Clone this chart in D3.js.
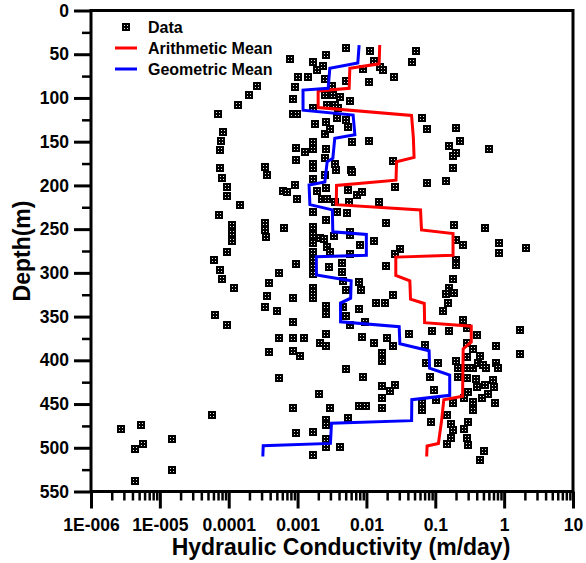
<!DOCTYPE html>
<html><head><meta charset="utf-8">
<script src="https://cdn.jsdelivr.net/npm/d3@7"></script>
<style>body{margin:0;background:#fff}svg{display:block}</style>
</head><body><svg id="c" width="586" height="563"></svg>
<script>
// ---- data: depth (m) and hydraulic conductivity (m/day) of each sample ----
const depth = [
 478,474,501,496,490,525,538,463,118,139,149,160,180,192,202,212,108,97,86,179,188,222,234,245,254,264,276,285,297,307,317,348,360,243,251,259,249,300,312,327,339,344,375,390,420,
 56,76,88,101,118,118,157,171,199,206,208,215,290,329,356,375,389,454,483,395,375,162,76,
 59,68,112,130,150,158,176,180,193,206,230,247,257,266,276,285,293,301,317,322,329,482,508,439,260,380,
 64,51,78,97,108,128,141,158,169,188,203,215,215,239,261,270,276,293,338,347,370,384,455,468,474,490,499,86,90,97,108,112,99,123,135,176,182,258,230,219,
 43,81,104,125,133,150,182,185,205,219,231,253,257,278,268,289,299,309,320,311,320,339,349,341,356,373,360,410,466,499,211,207,419,452,452,67,82,149,
 46,58,65,68,76,172,202,219,243,264,273,278,292,325,334,334,380,375,384,392,401,429,435,428,443,455,370,46,59,123,136,197,366,383,403,419,434,449,457,471,
 195,134,149,155,166,163,158,180,245,249,262,268,266,277,271,285,291,307,317,323,324,334,344,354,363,367,371,365,380,387,384,393,395,396,403,401,409,409,409,403,405,409,403,409,419,420,421,430,428,423,430,436,439,443,443,449,448,457,449,445,463,473,480,470,478,489,489,496,497,504,514
];
const conductivity = [
 2.7e-6,5.4e-6,4.4e-6,5.7e-6,1.5e-5,1.5e-5,4.4e-6,5.8e-5,7.0e-5,8.2e-5,7.7e-5,7.5e-5,7.5e-5,7.9e-5,9.6e-5,9.6e-5,1.35e-4,2.0e-4,2.55e-4,3.35e-4,3.6e-4,1.45e-4,7.3e-5,1.12e-4,1.12e-4,1.12e-4,9.5e-5,6.1e-5,7.5e-5,7.9e-5,1.2e-4,6.3e-5,9.5e-5,3.35e-4,3.35e-4,3.45e-4,6.4e-4,5.4e-4,3.9e-4,3.6e-4,3.35e-4,5.0e-4,5.3e-4,3.9e-4,5.4e-4,
 7.8e-4,1.0e-3,9.1e-4,8.5e-4,8.5e-4,9.7e-4,9.4e-4,9.4e-4,9.3e-4,6.2e-4,7.1e-4,9.7e-4,9.4e-4,8.5e-4,8.5e-4,8.5e-4,8.5e-4,8.5e-4,9.4e-4,1.1e-3,1.23e-3,1.3e-3,1.4e-3,
 1.7e-3,1.9e-3,1.7e-3,1.8e-3,1.7e-3,1.7e-3,1.65e-3,1.7e-3,1.7e-3,1.9e-3,1.7e-3,1.7e-3,1.7e-3,1.7e-3,1.7e-3,1.65e-3,1.65e-3,1.65e-3,1.7e-3,1.7e-3,1.7e-3,1.7e-3,1.7e-3,2.05e-3,2.1e-3,2.15e-3,
 2.35e-3,2.6e-3,2.5e-3,2.5e-3,2.65e-3,2.6e-3,2.5e-3,2.6e-3,2.5e-3,2.5e-3,2.6e-3,2.25e-3,2.65e-3,2.6e-3,2.45e-3,2.7e-3,2.95e-3,2.9e-3,2.6e-3,2.6e-3,2.6e-3,2.6e-3,2.95e-3,2.6e-3,2.6e-3,2.6e-3,2.6e-3,3.2e-3,3.2e-3,3.3e-3,3.5e-3,3.9e-3,4.1e-3,3.7e-3,3.0e-3,3.5e-3,3.6e-3,3.4e-3,3.7e-3,3.5e-3,
 5.1e-3,5.0e-3,5.7e-3,5.1e-3,5.4e-3,6.1e-3,5.9e-3,6.1e-3,5.4e-3,5.6e-3,5.3e-3,5.7e-3,5.7e-3,5.8e-3,8.0e-3,4.35e-3,4.35e-3,4.5e-3,5.1e-3,7.8e-3,8.3e-3,4.5e-3,5.05e-3,7.8e-3,9.5e-3,8.6e-3,5.7e-3,5.0e-3,5.4e-3,4.2e-3,7.2e-3,8.5e-3,8.8e-3,7.8e-3,1.0e-2,8.8e-3,1.1e-2,1.1e-2,
 1.12e-2,1.3e-2,1.57e-2,1.75e-2,2.5e-2,2.4e-2,2.6e-2,1.5e-2,1.95e-2,1.28e-2,3.05e-2,2.6e-2,1.95e-2,2.4e-2,1.37e-2,1.85e-2,1.3e-2,2.0e-2,2.45e-2,1.7e-2,1.7e-2,1.7e-2,2.2e-2,2.6e-2,1.7e-2,1.7e-2,4.15e-2,5.2e-2,4.6e-2,6.5e-2,7.6e-2,7.6e-2,9.1e-2,7.0e-2,7.3e-2,8.3e-2,9.5e-2,6.5e-2,6.5e-2,8.6e-2,
 0.145,0.20,0.23,0.16,0.178,0.203,0.60,0.18,0.19,0.52,0.203,0.25,0.85,0.85,2.1,0.203,0.20,0.178,0.16,0.19,0.142,0.153,0.13,0.25,0.285,0.16,0.40,1.7,0.285,0.35,0.76,1.7,0.44,0.285,0.11,0.20,0.215,0.285,0.35,0.42,0.495,0.55,0.76,0.81,0.215,0.29,0.385,0.40,0.52,0.68,0.71,0.30,0.58,0.47,0.26,0.73,0.35,0.35,0.178,0.104,0.15,0.17,0.18,0.30,0.26,0.17,0.285,0.15,0.30,0.51,0.44
];
// arithmetic mean profile
const amDepth = [39.5,61,66,89,92,111,120,145,168,173,194,200,222,228,251,255,280,282,303,309,330,335,357,361,379,387,441,445,470,495,498,510];
const amK = [0.0156,0.0153,0.00574,0.00561,0.00199,0.00199,0.0452,0.048,0.0492,0.0274,0.0269,0.00368,0.00365,0.061,0.0631,0.181,0.181,0.0267,0.0267,0.0427,0.0437,0.0692,0.070,0.333,0.333,0.254,0.249,0.133,0.123,0.111,0.076,0.075];
// geometric mean profile
const gmDepth = [39.5,60,66,89,91,114,119.5,142,146,169,173,196,199.5,222,228,253,256,280,281.5,302.5,309,329,334.5,356,361.6,381,389,409,417,440,445,469,472,495,497.6,510];
const gmK = [0.00783,0.0075,0.00294,0.00278,0.0012,0.0012,0.00641,0.00679,0.00347,0.00325,0.00269,0.00249,0.00147,0.00151,0.0032,0.00325,0.00997,0.00997,0.00187,0.00188,0.006,0.0059,0.00421,0.00421,0.0299,0.0306,0.0813,0.0826,0.162,0.162,0.0456,0.0453,0.00311,0.003,0.000317,0.000313];

const yTicks = [0,50,100,150,200,250,300,350,400,450,500,550];
const yMinorTicks = [25,75,125,175,225,275,325,375,425,475,525];
const xTicks = [1e-6,1e-5,1e-4,1e-3,1e-2,1e-1,1,10];
const xTickLabels = ["1E-006","1E-005","0.0001","0.001","0.01","0.1","1","10"];
const legendLabels = ["Data","Arithmetic Mean","Geometric Mean"];
const seriesColors = ["#000000","#ff0000","#0000ff"];
const xTitle = "Hydraulic Conductivity (m/day)";
const yTitle = "Depth(m)";

// ---- drawing ----
const FONT = "'Liberation Sans', Arial, sans-serif";
const svg = d3.select("#c");
const L = 91, R = 573, T = 10.5, B = 491.5;
const x = d3.scaleLog().domain([1e-6, 10]).range([L, R]);
const y = d3.scaleLinear().domain([0, 550]).range([T, B]);

const xMinor = [];
for (let e = -6; e < 1; e++) for (let m = 2; m <= 9; m++) xMinor.push(m * Math.pow(10, e));

function styleAxis(g, w) {
  g.select(".domain").remove();
  g.selectAll(".tick line").attr("stroke", "#000").attr("stroke-width", w);
  g.selectAll("text").attr("font-family", FONT).attr("font-weight", "bold")
    .attr("font-size", "17.5px").attr("fill", "#000");
}

// minor ticks
svg.append("g").attr("transform", `translate(${L},0)`)
  .call(d3.axisLeft(y).tickValues(yMinorTicks).tickSize(9).tickFormat(""))
  .call(g => styleAxis(g, 2.5));
svg.append("g").attr("transform", `translate(0,${B})`)
  .call(d3.axisBottom(x).tickValues(xMinor).tickSize(9).tickFormat(""))
  .call(g => styleAxis(g, 2.5));
// major ticks
svg.append("g").attr("transform", `translate(${L},0)`)
  .call(d3.axisLeft(y).tickValues(yTicks).tickSize(17).tickPadding(5).tickFormat(d3.format("d")))
  .call(g => styleAxis(g, 3));
svg.append("g").attr("transform", `translate(0,${B})`)
  .call(d3.axisBottom(x).tickValues(xTicks).tickSize(17).tickPadding(10)
    .tickFormat((d, i) => xTickLabels[i]))
  .call(g => styleAxis(g, 3));

// frame
svg.append("rect").attr("x", L).attr("y", T).attr("width", R - L).attr("height", B - T)
  .attr("fill", "none").attr("stroke", "#000").attr("stroke-width", 3);

// data markers
function marker(g, cx, cy) {
  cx = Math.round(cx); cy = Math.round(cy);
  g.append("rect").attr("x", cx - 4).attr("y", cy - 4).attr("width", 8).attr("height", 8)
    .attr("fill", seriesColors[0]);
  for (const dx of [-2, 1]) for (const dy of [-2, 1])
    g.append("rect").attr("x", cx + dx).attr("y", cy + dy).attr("width", 1).attr("height", 1)
      .attr("fill", "#e8e8e8");
}
const pts = svg.append("g");
depth.forEach((d, i) => marker(pts, x(conductivity[i]), y(d)));

// mean lines
const line = d3.line().x(d => x(d[1])).y(d => y(d[0]));
svg.append("path").datum(amDepth.map((d, i) => [d, amK[i]]))
  .attr("d", line).attr("fill", "none").attr("stroke", seriesColors[1]).attr("stroke-width", 3)
  .attr("stroke-linejoin", "miter");
svg.append("path").datum(gmDepth.map((d, i) => [d, gmK[i]]))
  .attr("d", line).attr("fill", "none").attr("stroke", seriesColors[2]).attr("stroke-width", 3)
  .attr("stroke-linejoin", "miter");

// legend
const lg = svg.append("g");
legendLabels.forEach((lab, i) => {
  const cy = 27 + i * 21;
  if (i === 0) marker(lg, 126, cy);
  else lg.append("line").attr("x1", 115).attr("x2", 137).attr("y1", cy).attr("y2", cy)
    .attr("stroke", seriesColors[i]).attr("stroke-width", 3);
  lg.append("text").attr("x", 148).attr("y", cy).attr("dy", "0.36em")
    .attr("font-family", FONT).attr("font-weight", "bold").attr("font-size", "16px")
    .attr("fill", "#000").text(lab);
});

// axis titles
svg.append("text").attr("x", 341).attr("y", 555).attr("text-anchor", "middle")
  .attr("font-family", FONT).attr("font-weight", "bold").attr("font-size", "23px").text(xTitle);
svg.append("text").attr("transform", `translate(30,${(T + B) / 2}) rotate(-90)`)
  .attr("text-anchor", "middle")
  .attr("font-family", FONT).attr("font-weight", "bold").attr("font-size", "23px").text(yTitle);
</script></body></html>
